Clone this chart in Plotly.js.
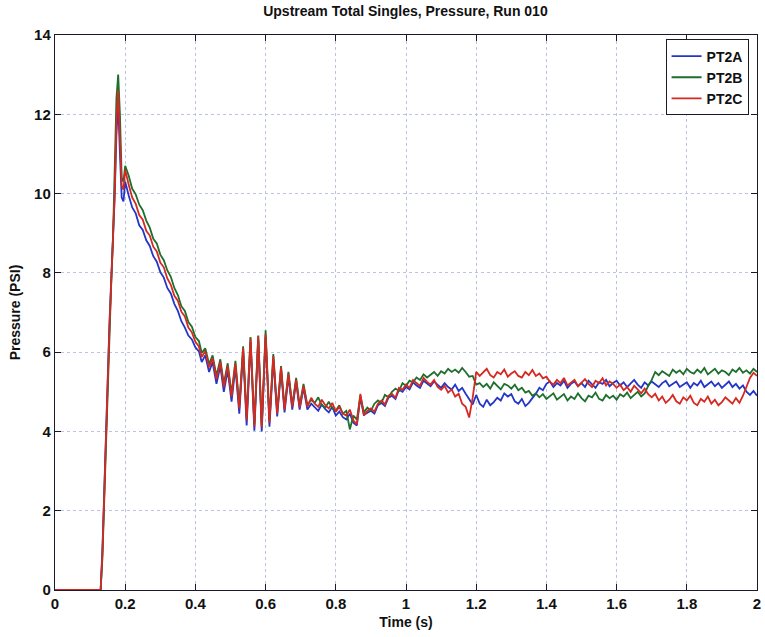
<!DOCTYPE html>
<html>
<head>
<meta charset="utf-8">
<script src="https://cdn.plot.ly/plotly-3.0.1.min.js"></script>
<style>
  html, body { margin: 0; padding: 0; background: #ffffff; }
  #chart { width: 765px; height: 637px; }
</style>
</head>
<body>
<div id="chart"></div>
<script>
// ---- Data ----
const timeEarly = [0, 0.13, 0.135, 0.14, 0.145, 0.15, 0.155, 0.16, 0.165, 0.17, 0.175, 0.18, 0.185, 0.19, 0.195, 0.2,
  0.21, 0.22, 0.23, 0.24, 0.25, 0.26, 0.27, 0.28, 0.29, 0.30, 0.31, 0.32, 0.33, 0.34, 0.35, 0.36, 0.37, 0.38, 0.39, 0.40, 0.41];
const timeOsc = [0.418, 0.428, 0.439, 0.449, 0.460, 0.471, 0.481, 0.492, 0.503, 0.514, 0.525, 0.536, 0.546, 0.557, 0.568,
  0.579, 0.589, 0.600, 0.611, 0.622, 0.633, 0.644, 0.654, 0.665, 0.676, 0.687, 0.697, 0.708, 0.719];
const timeLate = [0.73, 0.74, 0.75, 0.76, 0.77, 0.78, 0.79,
  0.80, 0.81, 0.82, 0.83, 0.84, 0.85, 0.86, 0.87, 0.88, 0.89,
  0.90, 0.91, 0.92, 0.93, 0.94, 0.95, 0.96, 0.97, 0.98, 0.99,
  1.00, 1.01, 1.02, 1.03, 1.04, 1.05, 1.06, 1.07, 1.08, 1.09,
  1.10, 1.11, 1.12, 1.13, 1.14, 1.15, 1.16, 1.17, 1.18, 1.19,
  1.20, 1.21, 1.22, 1.23, 1.24, 1.25, 1.26, 1.27, 1.28, 1.29,
  1.30, 1.31, 1.32, 1.33, 1.34, 1.35, 1.36, 1.37, 1.38, 1.39,
  1.40, 1.41, 1.42, 1.43, 1.44, 1.45, 1.46, 1.47, 1.48, 1.49,
  1.50, 1.51, 1.52, 1.53, 1.54, 1.55, 1.56, 1.57, 1.58, 1.59,
  1.60, 1.61, 1.62, 1.63, 1.64, 1.65, 1.66, 1.67, 1.68, 1.69,
  1.70, 1.71, 1.72, 1.73, 1.74, 1.75, 1.76, 1.77, 1.78, 1.79,
  1.80, 1.81, 1.82, 1.83, 1.84, 1.85, 1.86, 1.87, 1.88, 1.89,
  1.90, 1.91, 1.92, 1.93, 1.94, 1.95, 1.96, 1.97, 1.98, 1.99,
  2.00];

// PT2A (blue)
const pt2aEarly = [0, 0, 1.0, 2.5, 4.0, 5.4, 6.7, 7.8, 8.7, 9.9, 11.5, 12.3, 11.0, 9.9, 9.8, 10.3,
  9.95, 9.65, 9.5, 9.2, 9.08, 8.82, 8.68, 8.42, 8.28, 8.02, 7.88, 7.62, 7.48, 7.22, 7.04, 6.78, 6.62, 6.42, 6.32, 6.12, 6.02];
const pt2aOsc = [5.75, 5.92, 5.50, 5.75, 5.20, 5.65, 5.00, 5.55, 4.75, 5.62, 4.45, 6.02, 4.15, 6.25, 4.02,
  6.32, 4.00, 6.38, 4.12, 5.82, 4.38, 5.55, 4.48, 5.38, 4.55, 5.25, 4.55, 5.10, 4.55];
const pt2aLate = [4.70, 4.60, 4.52, 4.68, 4.56, 4.48, 4.62,
  4.40, 4.50, 4.36, 4.30, 4.45, 4.22, 4.15, 4.85, 4.42, 4.48,
  4.52, 4.45, 4.66, 4.72, 4.64, 4.85, 4.90, 4.82, 5.05, 5.00,
  5.12, 5.06, 5.24, 5.16, 5.10, 5.28, 5.20, 5.14, 5.26, 5.18,
  5.10, 5.22, 5.12, 5.06, 5.18, 5.02, 5.10, 4.95, 4.80, 4.68,
  4.92, 4.70, 4.62, 4.80, 4.66, 4.74, 4.85, 4.78, 4.96, 4.88,
  4.94, 4.76, 4.70, 4.82, 4.64, 4.72, 4.84, 4.95, 5.10, 5.04,
  5.20, 5.26, 5.12, 5.22, 5.16, 5.28, 5.10, 5.20, 5.26, 5.14,
  5.22, 5.12, 5.28, 5.18, 5.10, 5.24, 5.20, 5.30, 5.14, 5.22,
  5.28, 5.16, 5.24, 5.12, 5.20, 5.30, 5.18, 5.10, 5.24, 5.16,
  5.26, 5.20, 5.12, 5.22, 5.28, 5.14, 5.20, 5.26, 5.12, 5.18,
  5.24, 5.10, 5.22, 5.16, 5.28, 5.12, 5.20, 5.26, 5.14, 5.22,
  5.10, 5.18, 5.26, 5.12, 5.20, 5.08, 5.16, 5.00, 4.92, 5.02,
  4.90];

// PT2B (green)
const pt2bEarly = [0, 0, 0.8, 2.3, 3.8, 5.2, 6.5, 7.7, 8.8, 10.3, 12.4, 13.0, 12.0, 10.4, 10.3, 10.7,
  10.45, 10.12, 9.98, 9.72, 9.58, 9.32, 9.14, 8.86, 8.74, 8.46, 8.32, 8.06, 7.9, 7.62, 7.44, 7.16, 7.04, 6.76, 6.64, 6.38, 6.28];
const pt2bOsc = [5.98, 6.10, 5.70, 5.92, 5.40, 5.82, 5.20, 5.72, 4.95, 5.78, 4.65, 6.15, 4.35, 6.38, 4.18,
  6.42, 4.15, 6.55, 4.28, 5.95, 4.50, 5.65, 4.60, 5.50, 4.66, 5.35, 4.65, 5.20, 4.66];
const pt2bLate = [4.80, 4.72, 4.86, 4.66, 4.60, 4.75, 4.58,
  4.52, 4.66, 4.45, 4.52, 4.05, 4.40, 4.30, 4.90, 4.48, 4.60,
  4.52, 4.70, 4.78, 4.72, 4.92, 4.86, 5.00, 5.08, 5.02, 5.22,
  5.15, 5.28, 5.24, 5.36, 5.30, 5.44, 5.36, 5.42, 5.50, 5.40,
  5.52, 5.46, 5.58, 5.50, 5.56, 5.48, 5.60, 5.50, 5.38, 5.40,
  5.18, 5.22, 5.12, 5.20, 5.08, 5.24, 5.14, 5.06, 5.20, 5.16,
  5.08, 5.18, 5.04, 5.10, 4.98, 5.02, 4.90, 4.96, 4.86, 4.94,
  4.82, 4.90, 4.96, 4.80, 4.86, 4.94, 4.78, 4.88, 4.82, 4.96,
  4.84, 4.76, 4.90, 4.86, 4.98, 4.82, 4.78, 4.92, 4.84, 4.90,
  4.80, 4.94, 4.88, 4.98, 4.84, 4.92, 5.00, 4.88, 4.96, 5.15,
  5.30, 5.50, 5.42, 5.52, 5.46, 5.40, 5.56, 5.48, 5.54, 5.44,
  5.58, 5.50, 5.46, 5.56, 5.48, 5.60, 5.44, 5.52, 5.58, 5.46,
  5.54, 5.50, 5.42, 5.56, 5.50, 5.60, 5.48, 5.54, 5.46, 5.58,
  5.50];

// PT2C (red)
const pt2cEarly = [0, 0, 0.9, 2.4, 3.9, 5.3, 6.6, 7.7, 8.7, 10.0, 11.8, 12.6, 11.4, 10.2, 10.1, 10.6,
  10.22, 9.9, 9.74, 9.46, 9.34, 9.06, 8.94, 8.66, 8.54, 8.26, 8.14, 7.86, 7.7, 7.42, 7.3, 7.02, 6.9, 6.62, 6.5, 6.26, 6.14];
const pt2cOsc = [5.88, 6.02, 5.62, 5.85, 5.32, 5.75, 5.12, 5.65, 4.88, 5.72, 4.58, 6.10, 4.28, 6.35, 4.12,
  6.40, 4.10, 6.45, 4.22, 5.90, 4.45, 5.62, 4.55, 5.45, 4.62, 5.30, 4.60, 5.15, 4.62];
const pt2cLate = [4.85, 4.70, 4.62, 4.80, 4.66, 4.58, 4.72,
  4.50, 4.62, 4.45, 4.40, 4.55, 4.28, 4.18, 4.95, 4.40, 4.52,
  4.58, 4.50, 4.70, 4.78, 4.68, 4.90, 4.95, 4.85, 5.10, 5.05,
  5.18, 5.10, 5.30, 5.22, 5.15, 5.35, 5.25, 5.18, 5.30, 5.12,
  5.05, 5.15, 4.98, 5.06, 4.88, 4.95, 4.70, 4.62, 4.35, 4.85,
  5.50, 5.40, 5.48, 5.58, 5.42, 5.36, 5.50, 5.44, 5.56, 5.38,
  5.46, 5.52, 5.40, 5.36, 5.50, 5.42, 5.55, 5.40, 5.46, 5.34,
  5.38, 5.25, 5.18, 5.30, 5.22, 5.35, 5.16, 5.24, 5.30, 5.14,
  5.22, 5.32, 5.20, 5.12, 5.28, 5.22, 5.34, 5.16, 5.26, 5.20,
  5.10, 5.18, 5.04, 5.12, 5.00, 5.15, 5.06, 4.96, 5.08, 4.94,
  4.86, 4.95, 4.78, 4.88, 4.72, 4.80, 4.92, 4.76, 4.70, 4.86,
  4.78, 4.90, 4.72, 4.66, 4.82, 4.75, 4.88, 4.70, 4.80, 4.66,
  4.74, 4.86, 4.78, 4.70, 4.84, 4.72, 4.90, 5.12, 5.35, 5.48,
  5.40];

const seriesNames = ['PT2A', 'PT2B', 'PT2C'];
const xTickVals = [0, 0.2, 0.4, 0.6, 0.8, 1, 1.2, 1.4, 1.6, 1.8, 2];
const xTickText = ['0', '0.2', '0.4', '0.6', '0.8', '1', '1.2', '1.4', '1.6', '1.8', '2'];
const yTickVals = [0, 2, 4, 6, 8, 10, 12, 14];
const yTickText = ['0', '2', '4', '6', '8', '10', '12', '14'];

// ---- Build traces ----
const time = timeEarly.concat(timeOsc, timeLate);
const values = [
  pt2aEarly.concat(pt2aOsc, pt2aLate),
  pt2bEarly.concat(pt2bOsc, pt2bLate),
  pt2cEarly.concat(pt2cOsc, pt2cLate)
];
const colors = ['#2436c8', '#1e6e2c', '#d42a22'];

const FONT = 'Liberation Sans Narrow, Arial Narrow, Liberation Sans, Arial, sans-serif';

const traces = values.map((v, i) => ({
  x: time,
  y: v,
  type: 'scatter',
  mode: 'lines',
  name: seriesNames[i],
  line: { color: colors[i], width: 1.8 }
}));

const axisCommon = {
  showline: true,
  linecolor: '#1a1a2a',
  linewidth: 1.2,
  mirror: 'ticks',
  ticks: 'inside',
  ticklen: 6,
  tickwidth: 1,
  tickcolor: '#1a1a2a',
  showgrid: true,
  gridcolor: '#bcc4e0',
  griddash: 'dot',
  gridwidth: 1,
  zeroline: false,
  tickfont: { family: FONT, size: 15, color: '#111111', weight: 'bold' }
};

const layout = {
  width: 765,
  height: 637,
  margin: { l: 55, r: 8, t: 35, b: 47 },
  paper_bgcolor: '#ffffff',
  plot_bgcolor: '#ffffff',
  showlegend: true,
  title: {
    text: '<b>Upstream Total Singles, Pressure, Run 010</b>',
    font: { family: FONT, size: 14, color: '#111111' },
    x: 0.53, xanchor: 'center', y: 0.983, yanchor: 'middle'
  },
  xaxis: Object.assign({}, axisCommon, {
    range: [0, 2],
    tickvals: xTickVals,
    ticktext: xTickText,
    title: { text: '<b>Time (s)</b>', font: { family: FONT, size: 14, color: '#111111' }, standoff: 6 }
  }),
  yaxis: Object.assign({}, axisCommon, {
    range: [0, 14],
    tickvals: yTickVals,
    ticktext: yTickText,
    title: { text: '<b>Pressure (PSI)</b>', font: { family: FONT, size: 14, color: '#111111' }, standoff: 10 }
  }),
  legend: {
    x: 0.988, xanchor: 'right',
    y: 0.992, yanchor: 'top',
    bgcolor: '#ffffff',
    bordercolor: '#1a1a2a',
    borderwidth: 1,
    font: { family: FONT, size: 14, color: '#111111', weight: 'bold' },
    tracegroupgap: 0,
    itemwidth: 30
  }
};

Plotly.newPlot('chart', traces, layout, { staticPlot: true, displayModeBar: false });
</script>
</body>
</html>
